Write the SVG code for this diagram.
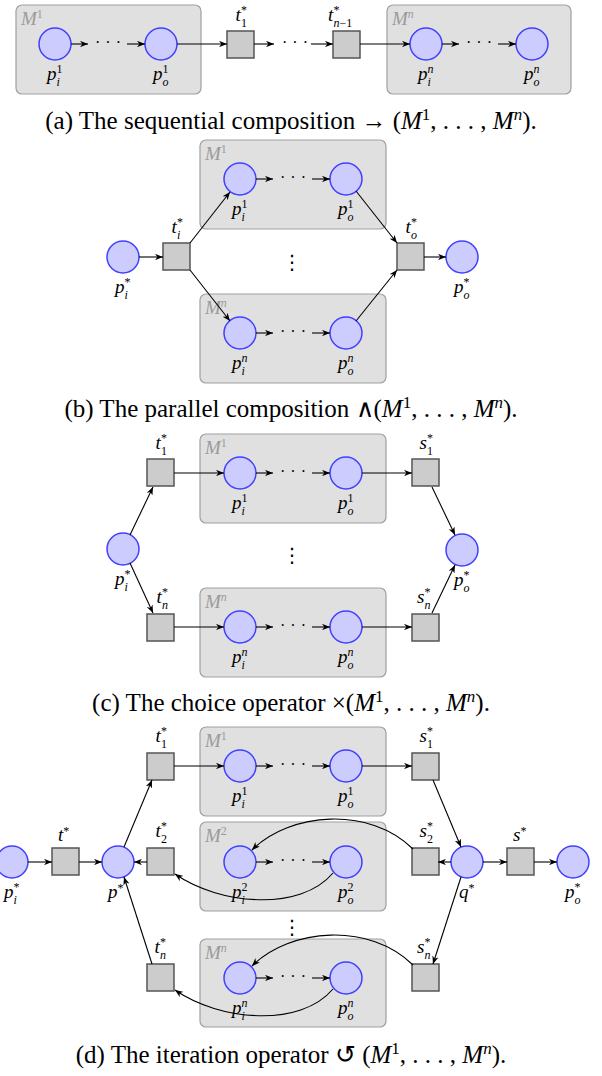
<svg xmlns="http://www.w3.org/2000/svg" width="602" height="1076" viewBox="0 0 602 1076">
<style>
.bx{fill:#e0e0e0;stroke:#a0a0a0;stroke-width:1.2}
.pl{fill:#ccccff;stroke:#4040ff;stroke-width:1.5}
.tr{fill:#cccccc;stroke:#555555;stroke-width:1.5}
.cn line,.cn path{stroke:#000;stroke-width:1.1;fill:none;marker-end:url(#ah)}
.lb{font-family:"Liberation Serif",serif;font-style:italic;font-size:19px;fill:#000}
.sc{font-size:12px;font-style:italic}
.up{font-style:normal}
.ml{fill:#9a9a9a}
.dt{font-family:"Liberation Serif",serif;font-size:16px;letter-spacing:5px;fill:#000}
.vd{font-family:"DejaVu Sans",sans-serif;font-size:20px;fill:#000;text-anchor:middle}
.cap{font-family:"Liberation Serif",serif;font-size:25px;fill:#000;text-anchor:middle}
.it{font-style:italic}
</style>
<defs>
<marker id="ah" viewBox="0 0 10 8" refX="10" refY="4" markerWidth="8" markerHeight="6.4" markerUnits="userSpaceOnUse" orient="auto"><path d="M0,0 L10,4 L0,8 L3,4 z" fill="#000"/></marker>
</defs>

<!-- (a) -->
<g id="a-M1"><rect class="bx" x="16" y="5" width="185" height="89" rx="6"/><text class="lb ml" x="21" y="25">M<tspan class="sc up" dy="-7">1</tspan></text></g>
<g id="a-Mn"><rect class="bx" x="387" y="5" width="184" height="89" rx="6"/><text class="lb ml" x="392" y="25">M<tspan class="sc" dy="-7">n</tspan></text></g>
<g id="a-pi1"><circle class="pl" cx="55" cy="44" r="16"/><text class="lb" x="47" y="80">p<tspan class="sc up" x="56.5" y="73">1</tspan><tspan class="sc" x="56.5" y="86">i</tspan></text></g>
<g id="a-po1"><circle class="pl" cx="161" cy="44" r="16"/><text class="lb" x="153" y="80">p<tspan class="sc up" x="162.5" y="73">1</tspan><tspan class="sc" x="162.5" y="86">o</tspan></text></g>
<g id="a-t1"><rect class="tr" x="227" y="31" width="27" height="27"/><text class="lb" x="235.5" y="21">t<tspan class="sc up" x="241" y="14">*</tspan><tspan class="sc up" x="241" y="27">1</tspan></text></g>
<g id="a-tn1"><rect class="tr" x="333" y="31" width="27" height="27"/><text class="lb" x="328" y="21">t<tspan class="sc up" x="333.5" y="14">*</tspan><tspan class="sc" x="333.5" y="27">n<tspan class="up">−1</tspan></tspan></text></g>
<g id="a-pin"><circle class="pl" cx="426" cy="44" r="16"/><text class="lb" x="418" y="80">p<tspan class="sc" x="427.5" y="73">n</tspan><tspan class="sc" x="427.5" y="86">i</tspan></text></g>
<g id="a-pon"><circle class="pl" cx="532" cy="44" r="16"/><text class="lb" x="524" y="80">p<tspan class="sc" x="533.5" y="73">n</tspan><tspan class="sc" x="533.5" y="86">o</tspan></text></g>
<g id="a-dots"><text class="dt" x="95" y="48">···</text><text class="dt" x="282" y="48">···</text><text class="dt" x="466" y="48">···</text></g>
<text class="cap" x="291" y="129">(a) The sequential composition → (<tspan class="it">M</tspan><tspan font-size="17" dy="-9">1</tspan><tspan dy="9">, . . . , </tspan><tspan class="it">M</tspan><tspan class="it" font-size="17" dy="-9">n</tspan><tspan dy="9">).</tspan></text>

<!-- (b) -->
<g id="b-M1"><rect class="bx" x="200" y="140" width="186" height="89" rx="6"/><text class="lb ml" x="205" y="160">M<tspan class="sc up" dy="-7">1</tspan></text></g>
<g id="b-Mn"><rect class="bx" x="200" y="294" width="186" height="89" rx="6"/><text class="lb ml" x="205" y="314">M<tspan class="sc" dy="-7">n</tspan></text></g>
<g id="b-pis"><circle class="pl" cx="123" cy="257" r="16"/><text class="lb" x="115" y="293">p<tspan class="sc up" x="124.5" y="286">*</tspan><tspan class="sc" x="124.5" y="299">i</tspan></text></g>
<g id="b-ti"><rect class="tr" x="163" y="243" width="27" height="27"/><text class="lb" x="171.5" y="233">t<tspan class="sc up" x="177" y="226">*</tspan><tspan class="sc" x="177" y="239">i</tspan></text></g>
<g id="b-pi1"><circle class="pl" cx="240" cy="179" r="16"/><text class="lb" x="232" y="215">p<tspan class="sc up" x="241.5" y="208">1</tspan><tspan class="sc" x="241.5" y="221">i</tspan></text></g>
<g id="b-po1"><circle class="pl" cx="346" cy="179" r="16"/><text class="lb" x="338" y="215">p<tspan class="sc up" x="347.5" y="208">1</tspan><tspan class="sc" x="347.5" y="221">o</tspan></text></g>
<g id="b-pin"><circle class="pl" cx="240" cy="333" r="16"/><text class="lb" x="232" y="369">p<tspan class="sc" x="241.5" y="362">n</tspan><tspan class="sc" x="241.5" y="375">i</tspan></text></g>
<g id="b-pon"><circle class="pl" cx="346" cy="333" r="16"/><text class="lb" x="338" y="369">p<tspan class="sc" x="347.5" y="362">n</tspan><tspan class="sc" x="347.5" y="375">o</tspan></text></g>
<g id="b-to"><rect class="tr" x="397" y="243" width="27" height="27"/><text class="lb" x="405.5" y="233">t<tspan class="sc up" x="411" y="226">*</tspan><tspan class="sc" x="411" y="239">o</tspan></text></g>
<g id="b-pos"><circle class="pl" cx="462" cy="257" r="16"/><text class="lb" x="454" y="293">p<tspan class="sc up" x="463.5" y="286">*</tspan><tspan class="sc" x="463.5" y="299">o</tspan></text></g>
<g id="b-dots"><text class="dt" x="280" y="183">···</text><text class="dt" x="280" y="337">···</text><text class="vd" x="292" y="269">⋮</text></g>
<text class="cap" x="291" y="417">(b) The parallel composition ∧(<tspan class="it">M</tspan><tspan font-size="17" dy="-9">1</tspan><tspan dy="9">, . . . , </tspan><tspan class="it">M</tspan><tspan class="it" font-size="17" dy="-9">n</tspan><tspan dy="9">).</tspan></text>

<!-- (c) -->
<g id="c-M1"><rect class="bx" x="200" y="434" width="186" height="89" rx="6"/><text class="lb ml" x="205" y="454">M<tspan class="sc up" dy="-7">1</tspan></text></g>
<g id="c-Mn"><rect class="bx" x="200" y="588" width="186" height="89" rx="6"/><text class="lb ml" x="205" y="608">M<tspan class="sc" dy="-7">n</tspan></text></g>
<g id="c-pis"><circle class="pl" cx="123" cy="549" r="16"/><text class="lb" x="115" y="585">p<tspan class="sc up" x="124.5" y="578">*</tspan><tspan class="sc" x="124.5" y="591">i</tspan></text></g>
<g id="c-t1"><rect class="tr" x="147" y="459" width="27" height="27"/><text class="lb" x="155.5" y="449">t<tspan class="sc up" x="161" y="442">*</tspan><tspan class="sc up" x="161" y="455">1</tspan></text></g>
<g id="c-tn"><rect class="tr" x="147" y="614" width="27" height="27"/><text class="lb" x="156.5" y="603">t<tspan class="sc up" x="162" y="596">*</tspan><tspan class="sc" x="162" y="609">n</tspan></text></g>
<g id="c-pi1"><circle class="pl" cx="240" cy="473" r="16"/><text class="lb" x="232" y="509">p<tspan class="sc up" x="241.5" y="502">1</tspan><tspan class="sc" x="241.5" y="515">i</tspan></text></g>
<g id="c-po1"><circle class="pl" cx="346" cy="473" r="16"/><text class="lb" x="338" y="509">p<tspan class="sc up" x="347.5" y="502">1</tspan><tspan class="sc" x="347.5" y="515">o</tspan></text></g>
<g id="c-pin"><circle class="pl" cx="240" cy="627" r="16"/><text class="lb" x="232" y="663">p<tspan class="sc" x="241.5" y="656">n</tspan><tspan class="sc" x="241.5" y="669">i</tspan></text></g>
<g id="c-pon"><circle class="pl" cx="346" cy="627" r="16"/><text class="lb" x="338" y="663">p<tspan class="sc" x="347.5" y="656">n</tspan><tspan class="sc" x="347.5" y="669">o</tspan></text></g>
<g id="c-s1"><rect class="tr" x="412" y="459" width="27" height="27"/><text class="lb" x="419.5" y="449">s<tspan class="sc up" x="427" y="442">*</tspan><tspan class="sc up" x="427" y="455">1</tspan></text></g>
<g id="c-sn"><rect class="tr" x="412" y="614" width="27" height="27"/><text class="lb" x="417" y="603">s<tspan class="sc up" x="424.5" y="596">*</tspan><tspan class="sc" x="424.5" y="609">n</tspan></text></g>
<g id="c-pos"><circle class="pl" cx="462" cy="550" r="16"/><text class="lb" x="454" y="586">p<tspan class="sc up" x="463.5" y="579">*</tspan><tspan class="sc" x="463.5" y="592">o</tspan></text></g>
<g id="c-dots"><text class="dt" x="280" y="477">···</text><text class="dt" x="280" y="631">···</text><text class="vd" x="292" y="562">⋮</text></g>
<text class="cap" x="291" y="711">(c) The choice operator ×(<tspan class="it">M</tspan><tspan font-size="17" dy="-9">1</tspan><tspan dy="9">, . . . , </tspan><tspan class="it">M</tspan><tspan class="it" font-size="17" dy="-9">n</tspan><tspan dy="9">).</tspan></text>

<!-- (d) -->
<g id="d-M1"><rect class="bx" x="200" y="727" width="186" height="89" rx="6"/><text class="lb ml" x="205" y="747">M<tspan class="sc up" dy="-7">1</tspan></text></g>
<g id="d-M2"><rect class="bx" x="200" y="822" width="186" height="89" rx="6"/><text class="lb ml" x="205" y="842">M<tspan class="sc up" dy="-7">2</tspan></text></g>
<g id="d-Mn"><rect class="bx" x="200" y="939" width="186" height="88" rx="6"/><text class="lb ml" x="205" y="959">M<tspan class="sc" dy="-7">n</tspan></text></g>
<g id="d-pis"><circle class="pl" cx="12" cy="862" r="16"/><text class="lb" x="4" y="898">p<tspan class="sc up" x="13.5" y="891">*</tspan><tspan class="sc" x="13.5" y="904">i</tspan></text></g>
<g id="d-t"><rect class="tr" x="52" y="848" width="27" height="27"/><text class="lb" x="58" y="841">t<tspan class="sc up" dy="-6">*</tspan></text></g>
<g id="d-p"><circle class="pl" cx="118" cy="862" r="16"/><text class="lb" x="108" y="898">p<tspan class="sc up" dy="-6">*</tspan></text></g>
<g id="d-t1"><rect class="tr" x="147" y="753" width="27" height="27"/><text class="lb" x="155.5" y="742">t<tspan class="sc up" x="161" y="735">*</tspan><tspan class="sc up" x="161" y="748">1</tspan></text></g>
<g id="d-t2"><rect class="tr" x="147" y="848" width="27" height="27"/><text class="lb" x="155.5" y="837">t<tspan class="sc up" x="161" y="830">*</tspan><tspan class="sc up" x="161" y="843">2</tspan></text></g>
<g id="d-tn"><rect class="tr" x="147" y="964" width="27" height="27"/><text class="lb" x="154.5" y="953">t<tspan class="sc up" x="160" y="946">*</tspan><tspan class="sc" x="160" y="959">n</tspan></text></g>
<g id="d-pi1"><circle class="pl" cx="240" cy="766" r="16"/><text class="lb" x="232" y="802">p<tspan class="sc up" x="241.5" y="795">1</tspan><tspan class="sc" x="241.5" y="808">i</tspan></text></g>
<g id="d-po1"><circle class="pl" cx="346" cy="766" r="16"/><text class="lb" x="338" y="802">p<tspan class="sc up" x="347.5" y="795">1</tspan><tspan class="sc" x="347.5" y="808">o</tspan></text></g>
<g id="d-pi2"><circle class="pl" cx="240" cy="862" r="16"/><text class="lb" x="232" y="898">p<tspan class="sc up" x="241.5" y="891">2</tspan><tspan class="sc" x="241.5" y="904">i</tspan></text></g>
<g id="d-po2"><circle class="pl" cx="346" cy="862" r="16"/><text class="lb" x="338" y="898">p<tspan class="sc up" x="347.5" y="891">2</tspan><tspan class="sc" x="347.5" y="904">o</tspan></text></g>
<g id="d-pin"><circle class="pl" cx="240" cy="978" r="16"/><text class="lb" x="232" y="1014">p<tspan class="sc" x="241.5" y="1007">n</tspan><tspan class="sc" x="241.5" y="1020">i</tspan></text></g>
<g id="d-pon"><circle class="pl" cx="346" cy="978" r="16"/><text class="lb" x="338" y="1014">p<tspan class="sc" x="347.5" y="1007">n</tspan><tspan class="sc" x="347.5" y="1020">o</tspan></text></g>
<g id="d-s1"><rect class="tr" x="412" y="753" width="27" height="27"/><text class="lb" x="419.5" y="742">s<tspan class="sc up" x="427" y="735">*</tspan><tspan class="sc up" x="427" y="748">1</tspan></text></g>
<g id="d-s2"><rect class="tr" x="412" y="848" width="27" height="27"/><text class="lb" x="419.5" y="837">s<tspan class="sc up" x="427" y="830">*</tspan><tspan class="sc up" x="427" y="843">2</tspan></text></g>
<g id="d-sn"><rect class="tr" x="412" y="964" width="27" height="27"/><text class="lb" x="417" y="953">s<tspan class="sc up" x="424.5" y="946">*</tspan><tspan class="sc" x="424.5" y="959">n</tspan></text></g>
<g id="d-q"><circle class="pl" cx="467" cy="862" r="16"/><text class="lb" x="459" y="898">q<tspan class="sc up" dy="-6">*</tspan></text></g>
<g id="d-s"><rect class="tr" x="507" y="848" width="27" height="27"/><text class="lb" x="513" y="841">s<tspan class="sc up" dy="-6">*</tspan></text></g>
<g id="d-pos"><circle class="pl" cx="573" cy="862" r="16"/><text class="lb" x="565" y="898">p<tspan class="sc up" x="574.5" y="891">*</tspan><tspan class="sc" x="574.5" y="904">o</tspan></text></g>
<g id="d-dots"><text class="dt" x="280" y="770">···</text><text class="dt" x="280" y="866">···</text><text class="dt" x="280" y="982">···</text><text class="vd" x="292" y="934">⋮</text></g>
<text class="cap" x="291" y="1063">(d) The iteration operator ↺ (<tspan class="it">M</tspan><tspan font-size="17" dy="-9">1</tspan><tspan dy="9">, . . . , </tspan><tspan class="it">M</tspan><tspan class="it" font-size="17" dy="-9">n</tspan><tspan dy="9">).</tspan></text>

<g id="connectors" class="cn">
<!-- a -->
<line x1="71" y1="44" x2="88" y2="44"/><line x1="127" y1="44" x2="145" y2="44"/>
<line x1="177" y1="44" x2="227" y2="44"/><line x1="254" y1="44" x2="274" y2="44"/>
<line x1="311" y1="44" x2="333" y2="44"/><line x1="360" y1="44" x2="410" y2="44"/>
<line x1="442" y1="44" x2="459" y2="44"/><line x1="498" y1="44" x2="516" y2="44"/>
<!-- b -->
<line x1="139" y1="257" x2="163" y2="257"/>
<line x1="190" y1="243" x2="230" y2="192"/><line x1="190" y1="270" x2="230" y2="321"/>
<line x1="356" y1="191" x2="397" y2="243"/><line x1="356" y1="321" x2="397" y2="270"/>
<line x1="424" y1="257" x2="446" y2="257"/>
<line x1="256" y1="179" x2="273" y2="179"/><line x1="312" y1="179" x2="330" y2="179"/>
<line x1="256" y1="333" x2="273" y2="333"/><line x1="312" y1="333" x2="330" y2="333"/>
<!-- c -->
<line x1="130" y1="535" x2="153" y2="487"/><line x1="130" y1="563" x2="153" y2="613"/>
<line x1="174" y1="473" x2="224" y2="473"/><line x1="362" y1="473" x2="412" y2="473"/>
<line x1="174" y1="627" x2="224" y2="627"/><line x1="362" y1="627" x2="412" y2="627"/>
<line x1="256" y1="473" x2="273" y2="473"/><line x1="312" y1="473" x2="330" y2="473"/>
<line x1="256" y1="627" x2="273" y2="627"/><line x1="312" y1="627" x2="330" y2="627"/>
<line x1="432" y1="487" x2="455" y2="535"/><line x1="432" y1="613" x2="455" y2="565"/>
<!-- d -->
<line x1="28" y1="862" x2="52" y2="862"/><line x1="79" y1="862" x2="102" y2="862"/>
<line x1="147" y1="862" x2="134" y2="862"/>
<line x1="124" y1="847" x2="152" y2="780"/><line x1="152" y1="964" x2="124" y2="877"/>
<line x1="174" y1="766" x2="224" y2="766"/><line x1="362" y1="766" x2="412" y2="766"/>
<line x1="256" y1="766" x2="273" y2="766"/><line x1="312" y1="766" x2="330" y2="766"/>
<line x1="256" y1="862" x2="273" y2="862"/><line x1="312" y1="862" x2="330" y2="862"/>
<line x1="256" y1="978" x2="273" y2="978"/><line x1="312" y1="978" x2="330" y2="978"/>
<line x1="433" y1="780" x2="461" y2="847"/><line x1="461" y1="877" x2="433" y2="964"/>
<line x1="451" y1="862" x2="438" y2="862"/><line x1="483" y1="862" x2="507" y2="862"/>
<line x1="534" y1="862" x2="557" y2="862"/>
<path d="M413,849 C370,806 290,812 252,850"/>
<path d="M333,873 C300,912 220,905 175,874"/>
<path d="M413,965 C370,922 290,928 252,966"/>
<path d="M333,989 C300,1028 220,1021 175,990"/>
</g>
</svg>
